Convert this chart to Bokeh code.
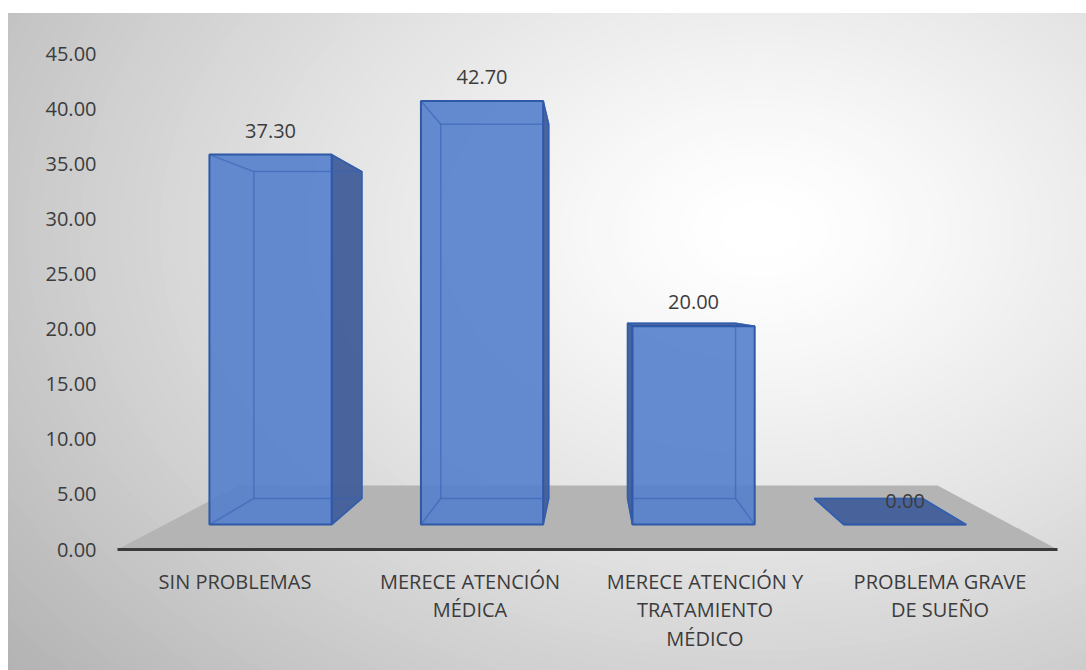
import numpy as np
from bokeh.plotting import figure
from bokeh.models import Range1d, FixedTicker, NumeralTickFormatter
from bokeh.core.properties import value
from bokeh.embed import file_html
from bokeh.resources import INLINE

# ---------------- data ----------------
categories = ["SIN PROBLEMAS",
              "MERECE ATENCIÓN\nMÉDICA",
              "MERECE ATENCIÓN Y\nTRATAMIENTO\nMÉDICO",
              "PROBLEMA GRAVE\nDE SUEÑO"]
values = [37.30, 42.70, 20.00, 0.00]
value_labels = ["37.30", "42.70", "20.00", "0.00"]
y_ticks = [0, 5, 10, 15, 20, 25, 30, 35, 40, 45]

# ---------------- geometry ----------------
W, H = 1086, 670
X0_PX, CAT_PX = 117, 235.0      # pixel of x=0 and px per category
Y0_PX, UNIT_PX = 549, 11.022    # pixel of y=0 and px per unit
FRAME_L, FRAME_T = 8, 13

x_start = (FRAME_L - X0_PX) / CAT_PX
x_end = (W - X0_PX) / CAT_PX
y_end = (Y0_PX - FRAME_T) / UNIT_PX
y_start = (Y0_PX - H) / UNIT_PX

VX, VY = 2.013, 22.6            # vanishing point (data units)
S_FRONT, S_BACK = 0.90, 0.795   # depth scale of bar front / back
S_FLOOR_BACK = 0.743
HALF = 0.289                    # half bar width (categories)

FONT = "Open Sans"
TXT = "#3c3c3c"


def proj(x, y, s):
    return VX + (x - VX) * s, VY + (y - VY) * s


p = figure(width=W, height=H, output_backend="svg", toolbar_location=None,
           x_range=Range1d(x_start, x_end), y_range=Range1d(y_start, y_end),
           min_border_left=FRAME_L, min_border_top=FRAME_T,
           min_border_right=0, min_border_bottom=0)
p.border_fill_color = "white"
p.background_fill_color = "#c8c8c8"
p.outline_line_color = "#bdbdbd"
p.outline_line_width = 1
p.grid.visible = False

# ---------------- background gradient ----------------
cx = (760 - X0_PX) / CAT_PX
cy = (Y0_PX - 230) / UNIT_PX
N = 90
ts = np.linspace(1.5, 0.0, N, endpoint=False)
bg_w = 2 * 800 * ts / CAT_PX
bg_h = 2 * 560 * ts / UNIT_PX
greys = np.clip(257 - 60 * ts ** 1.25, 0, 255).astype(int)
bg_col = ["#%02x%02x%02x" % (g, g, g) for g in greys]
p.ellipse(x=[cx] * N, y=[cy] * N, width=bg_w, height=bg_h,
          fill_color=bg_col, line_color=bg_col, line_width=1)

# ---------------- floor ----------------
n = len(values)
fl = [proj(0, 0, 1.0), proj(n, 0, 1.0), proj(n, 0, S_FLOOR_BACK), proj(0, 0, S_FLOOR_BACK)]
p.patch([c[0] for c in fl], [c[1] for c in fl], fill_color="#b4b4b4", line_color=None)

# ---------------- bars ----------------
FRONT_COL = "#5480cc"
SIDE_COL = "#44609a"
EDGE_COL = "#2f58a6"

side_xs, side_ys = [], []
front_xs, front_ys = [], []
hid_xs, hid_ys = [], []
lab_x, lab_y = [], []
for i, v in enumerate(values):
    c = i + 0.5
    xl, xr = c - HALF, c + HALF
    FLb, FRb = proj(xl, 0, S_FRONT), proj(xr, 0, S_FRONT)
    FLt, FRt = proj(xl, v, S_FRONT), proj(xr, v, S_FRONT)
    BLb, BRb = proj(xl, 0, S_BACK), proj(xr, 0, S_BACK)
    BLt, BRt = proj(xl, v, S_BACK), proj(xr, v, S_BACK)
    # visible side face
    side = [FRb, BRb, BRt, FRt] if c < VX else [FLb, BLb, BLt, FLt]
    side_xs.append([q[0] for q in side]); side_ys.append([q[1] for q in side])
    # visible top face (seen from above)
    if v < VY:
        top = [FLt, FRt, BRt, BLt]
        side_xs.append([q[0] for q in top]); side_ys.append([q[1] for q in top])
    front = [FLb, FRb, FRt, FLt]
    front_xs.append([q[0] for q in front]); front_ys.append([q[1] for q in front])
    back = [BLb, BRb, BRt, BLt, BLb]
    hid_xs.append([q[0] for q in back]); hid_ys.append([q[1] for q in back])
    for a, b in ((FLb, BLb), (FRb, BRb), (FRt, BRt), (FLt, BLt)):
        hid_xs.append([a[0], b[0]]); hid_ys.append([a[1], b[1]])
    tx, ty = proj(c, v, S_FRONT)
    lab_x.append(tx); lab_y.append(ty)

p.patches(side_xs, side_ys, fill_color=SIDE_COL, fill_alpha=0.97,
          line_color=EDGE_COL, line_width=1.5)
p.patches(front_xs, front_ys, fill_color=FRONT_COL, fill_alpha=0.9,
          line_color=EDGE_COL, line_width=2)
p.multi_line(hid_xs, hid_ys, line_color="#3562b4", line_alpha=0.6, line_width=1.5)

p.text(x=lab_x, y=lab_y, text=value_labels, y_offset=-24,
       text_align="center", text_baseline="middle",
       text_font=value(FONT), text_font_size="20px", text_color=TXT)

# ---------------- axes ----------------
yax = p.yaxis[0]
yax.fixed_location = (102 - X0_PX) / CAT_PX
yax.ticker = FixedTicker(ticks=y_ticks)
yax.formatter = NumeralTickFormatter(format="0.00")
yax.axis_line_color = None
yax.major_tick_line_color = None
yax.minor_tick_line_color = None
yax.major_label_standoff = 0
yax.major_label_text_font = FONT
yax.major_label_text_font_size = "20px"
yax.major_label_text_color = TXT

xax = p.xaxis[0]
xax.fixed_location = 0
xax.bounds = (0, n)
xax.ticker = FixedTicker(ticks=[i + 0.5 for i in range(n)])
xax.major_label_overrides = {i + 0.5: categories[i] for i in range(n)}
xax.axis_line_color = "#3a3a3a"
xax.axis_line_width = 3
xax.major_tick_line_color = None
xax.minor_tick_line_color = None
xax.major_label_standoff = 12
xax.major_label_text_font = FONT
xax.major_label_text_font_size = "20px"
xax.major_label_text_color = TXT
xax.major_label_text_line_height = 1.07

open("out.html", "w").write(file_html(p, INLINE))
